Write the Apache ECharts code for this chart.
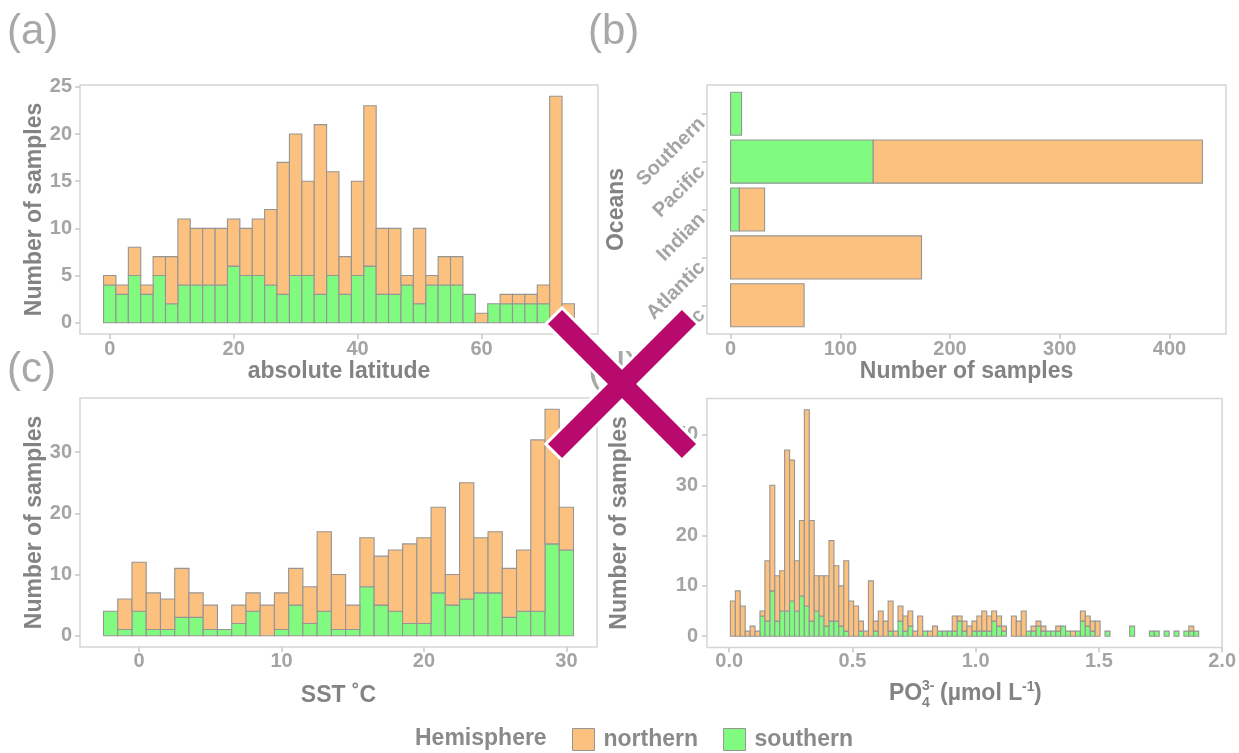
<!DOCTYPE html>
<html><head><meta charset="utf-8">
<script src="https://cdn.jsdelivr.net/npm/echarts@6/dist/echarts.min.js"></script>
<style>html,body{margin:0;padding:0;background:#fff}#chart{width:1239px;height:753px}</style>
</head><body><div id="chart"></div>
<script>
// ---------- DATA ----------
// (a) absolute latitude histogram (bin centres, 2-degree bins)
const latBins  = [0,2,4,6,8,10,12,14,16,18,20,22,24,26,28,30,32,34,36,38,40,42,44,46,48,50,52,54,56,58,60,62,64,66,68,70,72,74];
const latNorth = [1,1,3,1,2,5,7,6,6,6,5,5,6,8,14,15,10,18,11,4,10,17,7,7,1,8,1,3,3,0,1,0,1,1,1,2,24,2];
const latSouth = [4,3,5,3,5,2,4,4,4,4,6,5,5,4,3,5,5,3,5,3,5,6,3,3,4,2,4,4,4,3,0,2,2,2,2,2,0,0];
const latTicks = [0,20,40,60];
const latCountTicks = [0,5,10,15,20,25];

// (b) oceans
const oceans     = ['Arctic','Atlantic','Indian','Pacific','Southern'];
const oceanNorth = [67,174,23,300,0];
const oceanSouth = [0,0,8,130,10];
const oceanCountTicks = [0,100,200,300,400];

// (c) SST histogram (1 degree bins)
const sstBins  = [-2,-1,0,1,2,3,4,5,6,7,8,9,10,11,12,13,14,15,16,17,18,19,20,21,22,23,24,25,26,27,28,29,30];
const sstNorth = [0,5,8,6,5,8,4,4,0,3,3,5,6,6,6,13,9,4,8,8,10,13,14,14,5,19,9,10,8,10,28,22,7];
const sstSouth = [4,1,4,1,1,3,3,1,1,2,4,0,1,5,2,4,1,1,8,5,4,2,2,7,5,6,7,7,3,4,4,15,14];
const sstTicks = [0,10,20,30];
const sstCountTicks = [0,10,20,30];

// (d) PO4 histogram (0.02 bins)
const po4Bins = [0.015,0.035,0.055,0.075,0.095,0.115,0.135,0.155,0.175,0.195,
  0.215,0.235,0.255,0.275,0.295,0.315,0.335,0.355,0.375,0.395,
  0.415,0.435,0.455,0.475,0.495,0.515,0.535,0.555,0.575,0.595,
  0.615,0.635,0.655,0.675,0.695,0.715,0.735,0.755,0.775,0.795,
  0.815,0.835,0.855,0.875,0.895,0.915,0.935,0.955,0.975,0.995,
  1.015,1.035,1.055,1.075,1.095,1.115,1.135,1.155,1.175,1.195,
  1.215,1.235,1.255,1.275,1.295,1.315,1.335,1.355,1.375,1.395,
  1.415,1.435,1.455,1.475,1.495,1.515,1.535,1.555,1.575,1.595,
  1.615,1.635,1.655,1.675,1.695,1.715,1.735,1.755,1.775,1.795,
  1.815,1.835,1.855,1.875,1.895];
const po4North = [7,9,6,1,2,1,1,12,21,9,
  8,32,28,10,15,39,20,7,8,10,
  16,11,8,14,7,6,2,1,11,2,
  5,3,6,1,3,3,3,1,4,0,
  1,2,0,0,0,3,1,2,2,2,
  3,4,3,2,2,1,0,4,3,5,
  0,1,1,1,0,0,1,0,0,1,
  0,2,2,2,3,0,0,0,0,0,
  0,0,0,0,0,0,0,0,0,0,
  0,0,0,1,0];
const po4South = [0,0,0,0,0,0,4,3,9,3,
  5,5,7,5,8,6,3,5,4,2,
  3,3,2,1,0,0,1,0,0,1,
  0,0,1,0,3,1,2,0,0,1,
  0,0,1,1,1,1,3,1,0,1,
  1,1,1,3,2,1,0,0,0,0,
  1,1,2,1,1,1,1,2,1,0,
  1,3,2,1,0,0,1,0,0,0,
  0,2,0,0,0,1,1,0,1,0,
  1,0,1,1,1];
const po4Ticks = [0,0.5,1,1.5,2];
const po4CountTicks = [0,10,20,30,40];

// ---------- STYLE ----------
const FONT = '"Liberation Sans", Arial, Helvetica, sans-serif';
const ORANGE = '#FDC17F', GREEN = '#80FB80', EDGE = '#959595';
const TICK_C = '#a4a4a4', TITLE_C = '#838383', FRAME_C = '#d6d6d6', TICKLINE_C = '#c8c8c8';

function histRender(binW, color) {
  return function (params, api) {
    const c = api.value(0), base = api.value(1), v = api.value(2);
    if (!v) return null;
    const p0 = api.coord([c - binW / 2, base + v]);
    const p1 = api.coord([c + binW / 2, base]);
    return { type: 'rect', shape: { x: p0[0], y: p0[1], width: p1[0] - p0[0], height: p1[1] - p0[1] },
      style: { fill: color, stroke: EDGE, lineWidth: 1.1 } };
  };
}
function hbarRender(color) {
  return function (params, api) {
    const base = api.value(0), v = api.value(1), idx = api.value(2);
    if (!v) return null;
    const band = api.size([0, 1])[1];
    const h = band * 0.9;
    const p0 = api.coord([base, idx]);
    const p1 = api.coord([base + v, idx]);
    return { type: 'rect', shape: { x: p0[0], y: p0[1] - h / 2, width: p1[0] - p0[0], height: h },
      style: { fill: color, stroke: EDGE, lineWidth: 1.1 } };
  };
}
function valueAxis(o) {
  return {
    type: 'value', gridIndex: o.grid, min: o.min, max: o.max, show: o.show !== false,
    splitLine: { show: false }, axisLine: { show: false, onZero: false },
    axisTick: { show: true, length: 5, lineStyle: { color: TICKLINE_C, width: 1.5 }, customValues: o.ticks },
    axisLabel: { customValues: o.ticks, fontSize: 20, fontWeight: 'bold', color: TICK_C, fontFamily: FONT,
      margin: o.margin, formatter: o.fmt || (v => String(v)) },
    name: o.name || '', nameLocation: 'middle', nameGap: o.nameGap || 0, nameRotate: o.nameRotate,
    nameTextStyle: { fontSize: 23, fontWeight: 'bold', color: TITLE_C, fontFamily: FONT }
  };
}
const titleStyle = { fontSize: 23, fontWeight: 'bold', color: TITLE_C, fontFamily: FONT };

const bandFrac = 0.1 / 5.2;
const option = {
  animation: false,
  textStyle: { fontFamily: FONT },
  grid: [
    { left: 80, top: 85, width: 518, height: 249, show: true, borderColor: FRAME_C, borderWidth: 1.5 },
    { left: 707, top: 85, width: 519, height: 249, show: true, borderColor: FRAME_C, borderWidth: 1.5 },
    { left: 707, top: 85 + 249 * bandFrac, width: 519, height: 249 * 5 / 5.2, show: false },
    { left: 80, top: 398, width: 517, height: 249, show: true, borderColor: FRAME_C, borderWidth: 1.5 },
    { left: 707, top: 398.5, width: 518, height: 249, show: true, borderColor: FRAME_C, borderWidth: 1.5 }
  ],
  xAxis: [
    valueAxis({ grid: 0, min: -4.8, max: 78.8, ticks: latTicks, margin: 5, name: 'absolute latitude', nameGap: 26 }),
    valueAxis({ grid: 1, min: -21.5, max: 451.5, ticks: oceanCountTicks, margin: 5, name: 'Number of samples', nameGap: 26 }),
    valueAxis({ grid: 2, min: -21.5, max: 451.5, ticks: oceanCountTicks, show: false }),
    valueAxis({ grid: 3, min: -4.15, max: 32.15, ticks: sstTicks, margin: 4, name: 'SST ˚C', nameGap: 37 }),
    valueAxis({ grid: 4, min: -0.09, max: 2.0, ticks: po4Ticks, margin: 4, fmt: v => v.toFixed(1) })
  ],
  yAxis: [
    valueAxis({ grid: 0, min: -1.2, max: 25.2, ticks: latCountTicks, margin: 8, name: 'Number of samples', nameGap: 27, nameRotate: 90 }),
    { type: 'value', gridIndex: 1, min: 0, max: 1, show: false },
    {
      type: 'category', gridIndex: 2, data: oceans, boundaryGap: true,
      axisLine: { show: false, onZero: false }, splitLine: { show: false },
      axisTick: { show: true, alignWithLabel: true, length: 5, lineStyle: { color: TICKLINE_C, width: 1.5 } },
      axisLabel: { rotate: 45, fontSize: 20, fontWeight: 'bold', color: TICK_C, fontFamily: FONT, margin: 12, verticalAlign: 'top' },
      name: 'Oceans', nameLocation: 'middle', nameGap: 79, nameRotate: 90, nameTextStyle: titleStyle
    },
    valueAxis({ grid: 3, min: -1.85, max: 38.85, ticks: sstCountTicks, margin: 8, name: 'Number of samples', nameGap: 27, nameRotate: 90 }),
    valueAxis({ grid: 4, min: -2.25, max: 47.25, ticks: po4CountTicks, margin: 9, name: 'Number of samples', nameGap: 76, nameRotate: 90 })
  ],
  legend: {
    left: 572, top: 728, padding: 0, itemWidth: 22, itemHeight: 22, itemGap: 25, selectedMode: false,
    textStyle: { fontSize: 23, fontWeight: 'bold', color: '#8a8a8a', fontFamily: FONT, padding: [0, 0, 0, 4] },
    data: [
      { name: 'northern', icon: 'rect', itemStyle: { color: ORANGE, borderColor: EDGE, borderWidth: 1 } },
      { name: 'southern', icon: 'rect', itemStyle: { color: GREEN, borderColor: EDGE, borderWidth: 1 } }
    ]
  },
  series: [
    { type: 'custom', name: 'southern', xAxisIndex: 0, yAxisIndex: 0, renderItem: histRender(2, GREEN), itemStyle: { color: GREEN },
      data: latBins.map((c, i) => [c, 0, latSouth[i]]) },
    { type: 'custom', name: 'northern', xAxisIndex: 0, yAxisIndex: 0, renderItem: histRender(2, ORANGE), itemStyle: { color: ORANGE },
      data: latBins.map((c, i) => [c, latSouth[i], latNorth[i]]) },
    { type: 'custom', name: 'southern', xAxisIndex: 2, yAxisIndex: 2, renderItem: hbarRender(GREEN), itemStyle: { color: GREEN },
      encode: { x: [0, 1], y: 2 }, data: oceans.map((o, i) => [0, oceanSouth[i], i]) },
    { type: 'custom', name: 'northern', xAxisIndex: 2, yAxisIndex: 2, renderItem: hbarRender(ORANGE), itemStyle: { color: ORANGE },
      encode: { x: [0, 1], y: 2 }, data: oceans.map((o, i) => [oceanSouth[i], oceanNorth[i], i]) },
    { type: 'custom', name: 'southern', xAxisIndex: 3, yAxisIndex: 3, renderItem: histRender(1, GREEN), itemStyle: { color: GREEN },
      data: sstBins.map((c, i) => [c, 0, sstSouth[i]]) },
    { type: 'custom', name: 'northern', xAxisIndex: 3, yAxisIndex: 3, renderItem: histRender(1, ORANGE), itemStyle: { color: ORANGE },
      data: sstBins.map((c, i) => [c, sstSouth[i], sstNorth[i]]) },
    { type: 'custom', name: 'southern', xAxisIndex: 4, yAxisIndex: 4, renderItem: histRender(0.02, GREEN), itemStyle: { color: GREEN },
      data: po4Bins.map((c, i) => [c, 0, po4South[i]]) },
    { type: 'custom', name: 'northern', xAxisIndex: 4, yAxisIndex: 4, renderItem: histRender(0.02, ORANGE), itemStyle: { color: ORANGE },
      data: po4Bins.map((c, i) => [c, po4South[i], po4North[i]]) }
  ],
  graphic: [
    { type: 'text', z: 50, style: { text: '(a)', x: 7, y: 32, verticalAlign: 'middle', font: '42px ' + FONT, fill: '#a8a8a8' } },
    { type: 'text', z: 50, style: { text: '(b)', x: 588, y: 32, verticalAlign: 'middle', font: '42px ' + FONT, fill: '#a8a8a8' } },
    { type: 'text', z: 50, style: { text: '(c)', x: 7, y: 370, verticalAlign: 'middle', font: '42px ' + FONT, fill: '#a8a8a8' } },
    { type: 'text', z: 50, style: { text: '(d)', x: 588, y: 370, verticalAlign: 'middle', font: '42px ' + FONT, fill: '#a8a8a8' } },
    { type: 'text', z: 50, style: { text: 'Hemisphere', x: 415, y: 739, verticalAlign: 'middle', font: 'bold 23px ' + FONT, fill: '#8a8a8a' } },
    // PO4 axis title
    { type: 'text', z: 50, style: { text: 'PO', x: 889, y: 693.5, verticalAlign: 'middle', font: 'bold 23px ' + FONT, fill: TITLE_C } },
    { type: 'text', z: 50, style: { text: '3-', x: 922, y: 686, verticalAlign: 'middle', font: 'bold 14px ' + FONT, fill: TITLE_C } },
    { type: 'text', z: 50, style: { text: '4', x: 922, y: 703.5, verticalAlign: 'middle', font: 'bold 14px ' + FONT, fill: TITLE_C } },
    { type: 'text', z: 50, style: { text: '(µmol L', x: 940, y: 693.5, verticalAlign: 'middle', font: 'bold 23px ' + FONT, fill: TITLE_C } },
    { type: 'text', z: 50, style: { text: '-1', x: 1022, y: 687, verticalAlign: 'middle', font: 'bold 14px ' + FONT, fill: TITLE_C } },
    { type: 'text', z: 50, style: { text: ')', x: 1034, y: 693.5, verticalAlign: 'middle', font: 'bold 23px ' + FONT, fill: TITLE_C } },
    // Big cross overlay
    { type: 'line', z: 100, shape: { x1: 552.9, y1: 314.9, x2: 691.1, y2: 453.1 }, style: { stroke: '#ffffff', lineWidth: 26, lineCap: 'butt' } },
    { type: 'line', z: 100, shape: { x1: 691.1, y1: 314.9, x2: 552.9, y2: 453.1 }, style: { stroke: '#ffffff', lineWidth: 26, lineCap: 'butt' } },
    { type: 'line', z: 101, shape: { x1: 555, y1: 317, x2: 689, y2: 451 }, style: { stroke: '#B70A6C', lineWidth: 20, lineCap: 'butt' } },
    { type: 'line', z: 101, shape: { x1: 689, y1: 317, x2: 555, y2: 451 }, style: { stroke: '#B70A6C', lineWidth: 20, lineCap: 'butt' } }
  ]
};
const chart = echarts.init(document.getElementById('chart'), null, { renderer: 'canvas' });
chart.setOption(option);
</script>
</body></html>
